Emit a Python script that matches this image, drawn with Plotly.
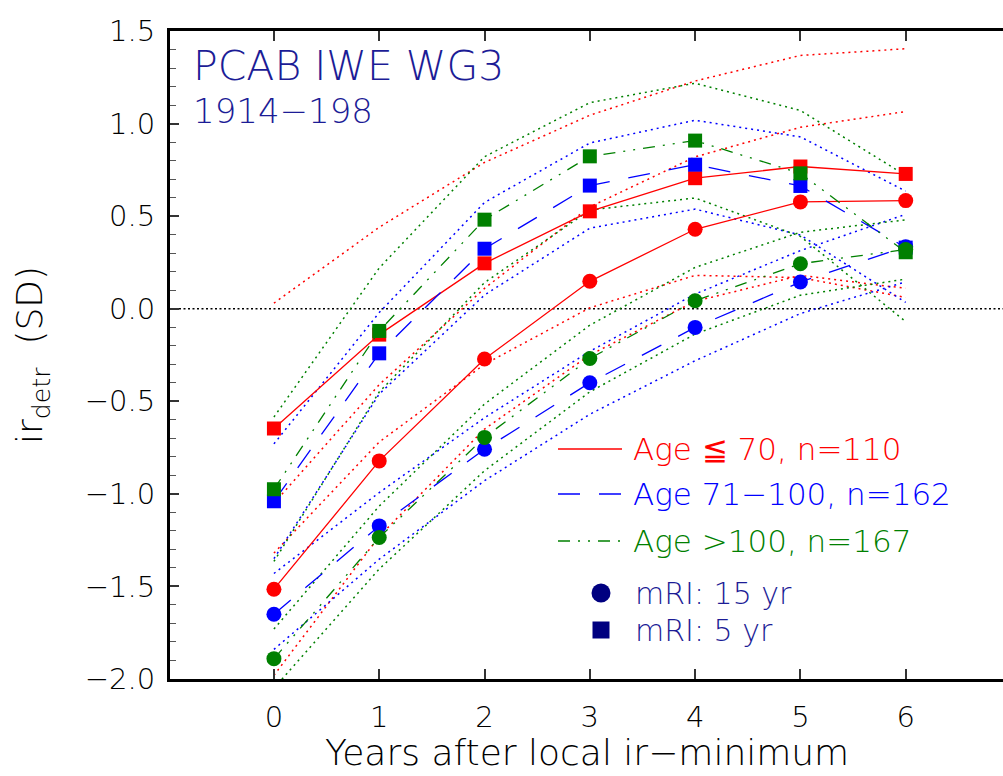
import plotly.graph_objects as go

# Years after the local ring-width minimum
years = [0, 1, 2, 3, 4, 5, 6]

# Age <= 70 (n=110)
red_c_mean = [-1.515, -0.822, -0.272, 0.148, 0.429, 0.577, 0.584]
red_c_upper = [-1.05, -0.41, 0.11, 0.55, 0.82, 0.98, 1.065]
red_c_lower = [-1.98, -1.23, -0.65, -0.25, 0.04, 0.18, 0.11]
red_s_mean = [-0.647, -0.14, 0.245, 0.526, 0.705, 0.768, 0.728]
red_s_upper = [0.03, 0.44, 0.79, 1.045, 1.23, 1.368, 1.404]
red_s_lower = [-1.32, -0.72, -0.30, 0.005, 0.18, 0.168, 0.061]

# Age 71-100 (n=162)
blue_c_mean = [-1.65, -1.173, -0.759, -0.40, -0.101, 0.144, 0.335]
blue_c_upper = [-1.43, -0.993, -0.589, -0.23, 0.079, 0.314, 0.51]
blue_c_lower = [-1.84, -1.353, -0.929, -0.57, -0.281, -0.026, 0.145]
blue_s_mean = [-1.04, -0.241, 0.324, 0.665, 0.778, 0.663, 0.33]
blue_s_upper = [-0.73, -0.021, 0.574, 0.895, 1.018, 0.928, 0.635]
blue_s_lower = [-1.35, -0.461, 0.074, 0.435, 0.538, 0.398, 0.034]

# Age > 100 (n=167)
green_c_mean = [-1.89, -1.236, -0.695, -0.269, 0.043, 0.243, 0.32]
green_c_upper = [-1.73, -1.066, -0.515, -0.089, 0.223, 0.413, 0.48]
green_c_lower = [-2.05, -1.406, -0.875, -0.449, -0.137, 0.073, 0.16]
green_s_mean = [-0.975, -0.12, 0.481, 0.823, 0.908, 0.731, 0.305]
green_s_upper = [-0.585, 0.22, 0.821, 1.113, 1.218, 1.071, 0.72]
green_s_lower = [-1.365, -0.45, 0.141, 0.533, 0.598, 0.391, -0.07]

y_ticks = [-2.0, -1.5, -1.0, -0.5, 0.0, 0.5, 1.0, 1.5]
legend_labels = ["Age \u2266 70, n=110", "Age 71\u2212100, n=162", "Age >100, n=167"]
mri_labels = ["mRI: 15 yr", "mRI: 5 yr"]

RED, BLUE, GREEN = "#ff0000", "#0000ff", "#008000"
NAVY = "#000080"
TXT_NAVY = "#1c1c96"
FONT = "DejaVu Sans"
WEIGHT = 200

DASH = {RED: "solid", BLUE: "22px,19px", GREEN: "12px,8px,2px,8px,2px,8px"}

groups = [
    (RED, red_c_mean, red_c_upper, red_c_lower, red_s_mean, red_s_upper, red_s_lower),
    (BLUE, blue_c_mean, blue_c_upper, blue_c_lower, blue_s_mean, blue_s_upper, blue_s_lower),
    (GREEN, green_c_mean, green_c_upper, green_c_lower, green_s_mean, green_s_upper, green_s_lower),
]


def tfont(size, color="black"):
    return dict(family=FONT, size=size, color=color, weight=WEIGHT)


fig = go.Figure()

# confidence bands (dotted)
for col, cm, cu, cl, sm, su, sl in groups:
    for band in (cu, cl, su, sl):
        fig.add_trace(go.Scatter(x=years, y=band, mode="lines",
                                 line=dict(color=col, width=1.5, dash="2px,4px"),
                                 hoverinfo="skip"))

# mean curves with markers
for col, cm, cu, cl, sm, su, sl in groups:
    fig.add_trace(go.Scatter(x=years, y=cm, mode="lines+markers",
                             line=dict(color=col, width=1.3, dash=DASH[col]),
                             marker=dict(symbol="circle", size=15, color=col)))
    fig.add_trace(go.Scatter(x=years, y=sm, mode="lines+markers",
                             line=dict(color=col, width=1.3, dash=DASH[col]),
                             marker=dict(symbol="square", size=14, color=col)))

# plot-area pixel geometry -> paper coordinates
L, R, T, B = 170, 1003, 31, 679


def px(x):
    return (x - L) / (R - L)


def py(y):
    return (B - y) / (B - T)


shapes = [
    dict(type="line", xref="paper", x0=0, x1=1, yref="y", y0=0, y1=0,
         line=dict(color="black", width=1.5, dash="2px,2.5px"), layer="below"),
]
leg_y = [449, 494, 541]
for (col, *_), yy in zip(groups, leg_y):
    shapes.append(dict(type="line", xref="paper", yref="paper",
                       x0=px(558), x1=px(622), y0=py(yy), y1=py(yy),
                       line=dict(color=col, width=1.3, dash=DASH[col])))
shapes.append(dict(type="circle", xref="paper", yref="paper",
                   xsizemode="pixel", ysizemode="pixel",
                   xanchor=px(601), yanchor=py(593), x0=-9.5, x1=9.5, y0=-9.5, y1=9.5,
                   fillcolor=NAVY, line=dict(width=0)))
shapes.append(dict(type="rect", xref="paper", yref="paper",
                   xsizemode="pixel", ysizemode="pixel",
                   xanchor=px(601), yanchor=py(630), x0=-8.5, x1=8.5, y0=-8.5, y1=8.5,
                   fillcolor=NAVY, line=dict(width=0)))

annotations = [
    dict(text="PCAB IWE WG3", x=px(191), y=py(66), xref="paper", yref="paper",
         xanchor="left", yanchor="middle", showarrow=False, font=tfont(41, TXT_NAVY)),
    dict(text="1914\u2212198", x=px(191), y=py(111), xref="paper", yref="paper",
         xanchor="left", yanchor="middle", showarrow=False, font=tfont(34, TXT_NAVY)),
    dict(text="Years after local ir\u2212minimum", x=0.5, y=py(752), xref="paper", yref="paper",
         xanchor="center", yanchor="middle", showarrow=False, font=tfont(36)),
    dict(text="ir<sub>detr</sub>  (SD)", x=px(32), y=0.5, xref="paper", yref="paper",
         xanchor="center", yanchor="middle", showarrow=False, textangle=-90,
         font=tfont(36)),
]
for (col, *_), yy, lab in zip(groups, leg_y, legend_labels):
    annotations.append(dict(text=lab, x=px(631), y=py(yy), xref="paper", yref="paper",
                            xanchor="left", yanchor="middle", showarrow=False,
                            font=tfont(31, col)))
for yy, lab in zip([593, 630], mri_labels):
    annotations.append(dict(text=lab, x=px(633), y=py(yy), xref="paper", yref="paper",
                            xanchor="left", yanchor="middle", showarrow=False,
                            font=tfont(30, TXT_NAVY)))

fig.update_layout(
    width=1003, height=776,
    margin=dict(l=L, r=1003 - R, t=T, b=776 - B),
    plot_bgcolor="white", paper_bgcolor="white",
    showlegend=False,
    shapes=shapes, annotations=annotations,
    font=dict(family=FONT, color="black", weight=WEIGHT),
    xaxis=dict(range=[-0.987, 6.924], tickvals=years, ticks="inside", ticklen=10,
               tickwidth=1.5, tickcolor="#333", showline=True, linewidth=3,
               linecolor="black", mirror="ticks", showgrid=False, zeroline=False,
               tickfont=tfont(29), ticklabelstandoff=10),
    yaxis=dict(range=[-2.0, 1.5], tickvals=y_ticks, tickformat=".1f", ticks="inside",
               ticklen=9, tickwidth=1.5, tickcolor="#333", showline=True, linewidth=3,
               linecolor="black", showgrid=False, zeroline=False,
               minor=dict(dtick=0.1, ticks="inside", ticklen=6, tickcolor="#555",
                          tickwidth=1.3, showgrid=False),
               tickfont=tfont(29), ticklabelstandoff=6),
)

fig.write_html("out.html")
